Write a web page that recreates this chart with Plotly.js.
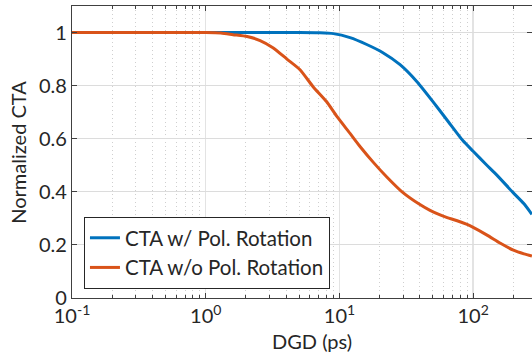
<!DOCTYPE html>
<html>
<head>
<meta charset="utf-8">
<script src="https://cdn.plot.ly/plotly-3.0.1.min.js"></script>
<style>html,body{margin:0;padding:0;background:#fff;overflow:hidden}</style>
</head>
<body>
<div id="chart" style="width:532px;height:355px"></div>
<script>
// DGD values (ps) and normalized CTA
const dgdBlue = [0.1, 1, 3, 5, 7, 9, 12, 16, 21, 28.4, 38, 50, 65, 84, 100, 125, 151, 199, 240, 275];
const ctaBlue = [1, 1, 1, 1, 0.999, 0.996, 0.981, 0.955, 0.925, 0.879, 0.815, 0.74, 0.665, 0.592, 0.553, 0.503, 0.462, 0.397, 0.355, 0.315];

const dgdOrange = [0.1, 1, 1.3, 1.6, 2.04, 2.55, 3.18, 4.05, 5.07, 6.35, 8, 9.6, 12, 14.3, 18, 22.7, 29.4, 40, 47.6, 56, 64, 75, 90, 100, 127, 160, 200, 240, 275];
const ctaOrange = [1, 1, 0.998, 0.992, 0.985, 0.97, 0.943, 0.9, 0.86, 0.796, 0.74, 0.683, 0.62, 0.57, 0.51, 0.455, 0.4, 0.352, 0.33, 0.314, 0.303, 0.292, 0.277, 0.266, 0.237, 0.206, 0.18, 0.166, 0.158];

const seriesNames = ['CTA w/ Pol. Rotation', 'CTA w/o Pol. Rotation'];
const xTickVals = [0.1, 1, 10, 100];
const xTickText = ['10<sup>-1</sup>', '10<sup>0</sup>', '10<sup>1</sup>', '10<sup>2</sup>'];
const xTitle = 'DGD (ps)';
const yTitle = 'Normalized CTA';

const FONT = 'Lato, "Open Sans", sans-serif';
const TXT = '#262626';

const traces = [
  {x: dgdBlue, y: ctaBlue, name: seriesNames[0], mode: 'lines', line: {color: '#0072BD', width: 3, shape: 'spline', smoothing: 0.6}},
  {x: dgdOrange, y: ctaOrange, name: seriesNames[1], mode: 'lines', line: {color: '#D95319', width: 3, shape: 'spline', smoothing: 0.6}}
];

const layout = {
  width: 532, height: 355,
  margin: {l: 72, r: 0, t: 6, b: 57},
  paper_bgcolor: '#fff', plot_bgcolor: '#fff',
  font: {family: FONT, color: TXT, size: 20},
  showlegend: true,
  legend: {
    x: 0.026, y: 0.031, xanchor: 'left', yanchor: 'bottom',
    bgcolor: '#fff', bordercolor: TXT, borderwidth: 1,
    font: {family: FONT, size: 20.5, color: TXT},
    tracegroupgap: 0
  },
  xaxis: {
    type: 'log', range: [-1, 2.44],
    tickmode: 'array', tickvals: xTickVals, ticktext: xTickText,
    ticks: 'inside', ticklen: 5, tickcolor: '#404040', tickwidth: 1,
    showline: true, linecolor: '#404040', linewidth: 1.2, mirror: 'allticks',
    showgrid: true, gridcolor: '#e3e3e3', gridwidth: 1.5,
    zeroline: false,
    tickfont: {family: FONT, size: 20, color: TXT},
    minor: {dtick: 'D1', ticks: 'inside', ticklen: 3, tickcolor: '#404040', showgrid: true, gridcolor: '#cfcfcf', griddash: '1px,3px', gridwidth: 1}
  },
  yaxis: {
    range: [0, 1.1], dtick: 0.2, tick0: 0,
    ticks: 'inside', ticklen: 5, tickcolor: '#404040',
    showline: true, linecolor: '#404040', linewidth: 1.2, mirror: 'ticks',
    showgrid: true, gridcolor: '#dcdcdc', gridwidth: 1,
    zeroline: false,
    tickfont: {family: FONT, size: 20, color: TXT}
  },
  annotations: [
    {text: xTitle, xref: 'paper', yref: 'paper', x: 0.522, y: -0.147, xanchor: 'center', yanchor: 'middle', showarrow: false, font: {family: FONT, size: 20, color: TXT}},
    {text: yTitle, xref: 'paper', yref: 'paper', x: -0.118, y: 0.5, xanchor: 'center', yanchor: 'middle', textangle: -90, showarrow: false, font: {family: FONT, size: 20, color: TXT}}
  ]
};

Plotly.newPlot('chart', traces, layout, {staticPlot: true, displayModeBar: false});
</script>
</body>
</html>
